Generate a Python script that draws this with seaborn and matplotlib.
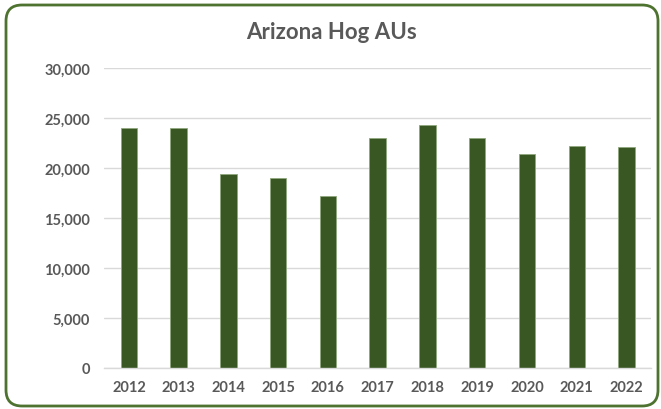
import pandas as pd
import matplotlib.pyplot as plt
import seaborn as sns
from matplotlib.patches import FancyBboxPatch
from matplotlib.ticker import FuncFormatter

# Data
years = ["2012", "2013", "2014", "2015", "2016", "2017", "2018", "2019", "2020", "2021", "2022"]
hog_aus = [23970, 23970, 19430, 19000, 17200, 22970, 24330, 23030, 21430, 22170, 22070]

data = pd.DataFrame({"Year": years, "AUs": hog_aus})

sns.set_style("white")
plt.rcParams['font.family'] = ['Lato', 'DejaVu Sans']

fig = plt.figure(figsize=(6.61, 4.10), dpi=100)
ax = fig.add_axes([104 / 661, 0.10, 547.4 / 661, 0.7317])

sns.barplot(data=data, x="Year", y="AUs", color="#385723", width=0.33,
            edgecolor="#8fa77c", linewidth=0.6, saturation=1, ax=ax)

ax.set_ylim(0, 30000)
ax.set_yticks(range(0, 30001, 5000))
ax.yaxis.set_major_formatter(FuncFormatter(lambda v, p: f"{int(v):,}"))
ax.grid(axis="y", color="#D9D9D9", linewidth=1)
ax.set_axisbelow(True)
for s in ["top", "right", "left"]:
    ax.spines[s].set_visible(False)
ax.spines["bottom"].set_color("#D9D9D9")
ax.spines["bottom"].set_linewidth(1)
ax.tick_params(axis="both", length=0, labelsize=10.5, colors="#595959")
ax.tick_params(axis="y", pad=10)
ax.tick_params(axis="x", pad=9)
for lbl in ax.get_xticklabels() + ax.get_yticklabels():
    lbl.set_fontweight("bold")
ax.set_xlabel("")
ax.set_ylabel("")

fig.text(0.502, 0.92, "Arizona Hog AUs", ha="center", va="center",
         fontsize=16, fontweight="bold", color="#595959")

# rounded green border around the chart
border = FancyBboxPatch((0.06, 0.03), 6.52, 4.01,
                        boxstyle="round,pad=0,rounding_size=0.16",
                        transform=fig.dpi_scale_trans, fill=False,
                        edgecolor="#4E7330", linewidth=2)
fig.patches.append(border)

fig.savefig("out.png", dpi=100)
